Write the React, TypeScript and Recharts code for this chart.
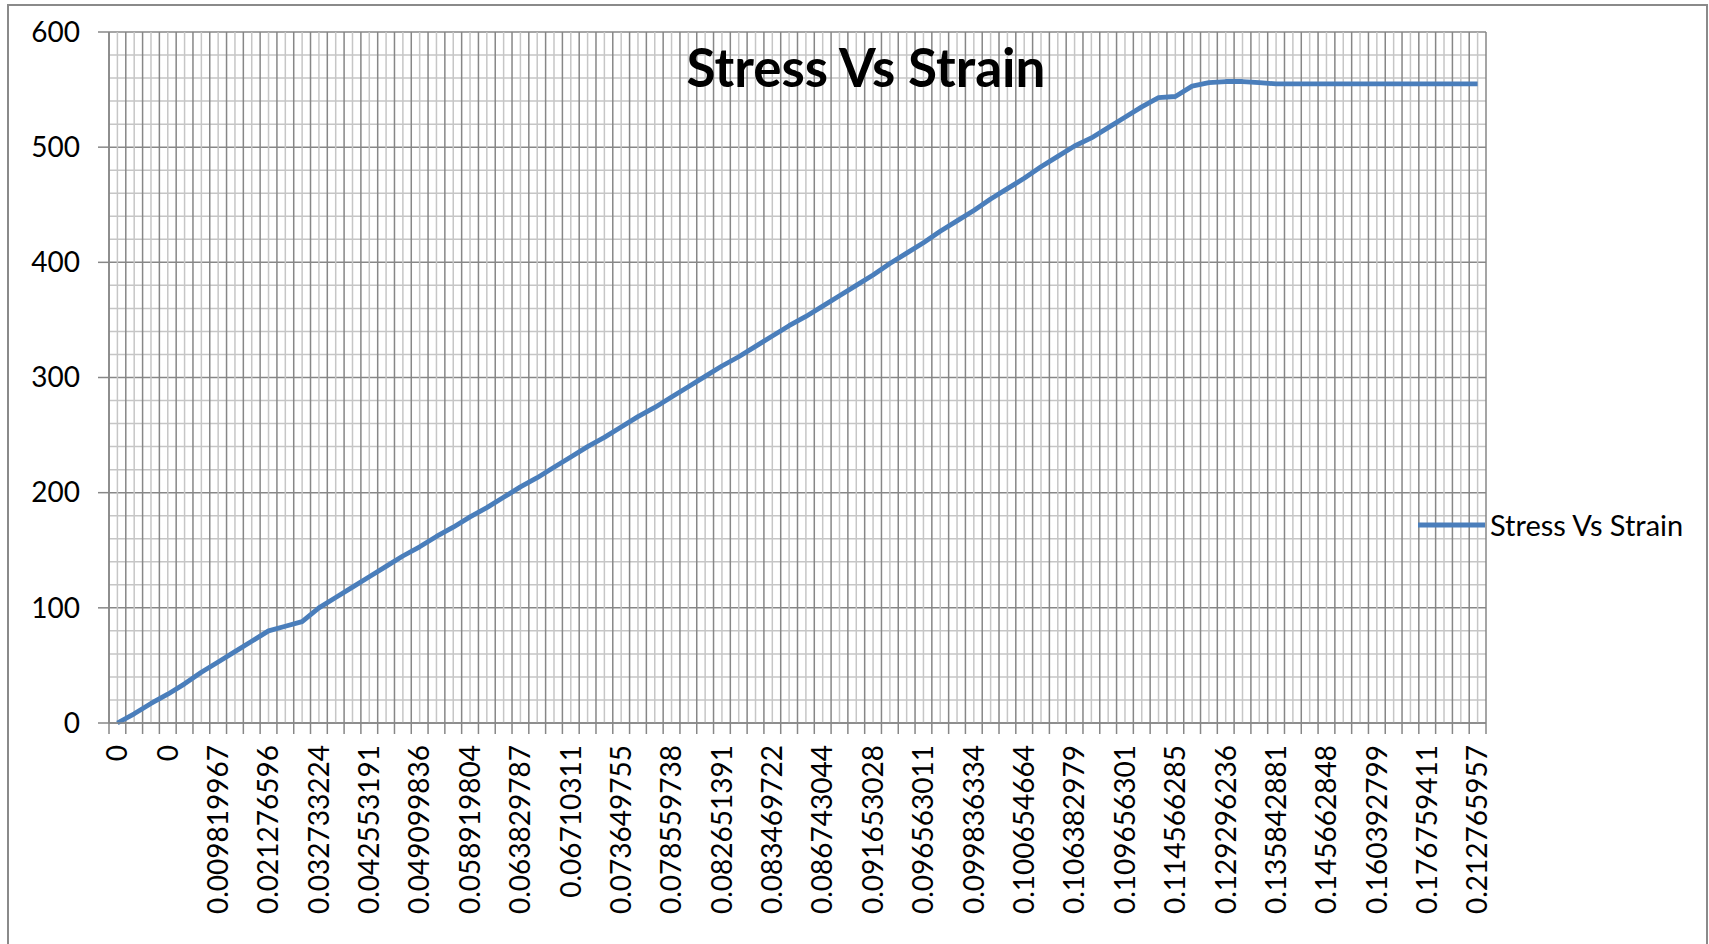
import { CartesianGrid, Line, LineChart, XAxis, YAxis } from 'recharts';

// strain labels shown on the category axis (every 3rd point)
const strainLabels = [
  '0', '0', '0.009819967', '0.021276596', '0.032733224', '0.042553191', '0.049099836',
  '0.058919804', '0.063829787', '0.06710311', '0.073649755', '0.078559738', '0.082651391',
  '0.083469722', '0.086743044', '0.091653028', '0.096563011', '0.099836334', '0.100654664',
  '0.106382979', '0.109656301', '0.114566285', '0.129296236', '0.135842881', '0.145662848',
  '0.160392799', '0.176759411', '0.212765957',
];

// stress, one per category
const stress = [
  0, 8, 17, 25, 34, 44, 53, 62, 71, 80,
  84, 88, 100, 109, 118, 127, 136, 145, 153, 162,
  170, 179, 187, 196, 205, 213, 222, 231, 240, 248,
  257, 266, 274, 283, 292, 301, 310, 318, 327, 336,
  345, 353, 362, 371, 380, 389, 399, 408, 417, 427,
  436, 445, 455, 464, 473, 483, 492, 501, 508, 517,
  526, 535, 543, 544, 553, 556, 557, 557, 556, 555,
  555, 555, 555, 555, 555, 555, 555, 555, 555, 555,
  555, 555,
];

const yTicks = [0, 20, 40, 60, 80, 100, 120, 140, 160, 180, 200, 220, 240, 260, 280, 300,
  320, 340, 360, 380, 400, 420, 440, 460, 480, 500, 520, 540, 560, 580, 600];

const data = stress.map((s, i) => ({ i, stress: s }));
// grid / tick positions: category edges and centres
const xTicks = Array.from({ length: stress.length * 2 + 1 }, (_, k) => k * 0.5 - 0.5);

const DARK = '#878787';
const LIGHT = '#c6c6c6';
const FONT = 'Lato, "Open Sans", sans-serif';

const XTick = (props: any) => {
  const { x, y, payload } = props;
  const v = payload.value;
  const isEdge = Math.abs(v - Math.round(v)) > 0.1;
  if (isEdge) {
    return <line x1={x} x2={x} y1={y} y2={y + 11} stroke={DARK} strokeWidth={1.5} />;
  }
  if (v % 3 !== 0) return <g />;
  const ty = y + 22;
  return (
    <text x={x} y={ty} transform={`rotate(-90, ${x}, ${ty})`} textAnchor="end" dy="0.35em"
      fontSize={28} fontFamily={FONT} fill="#000">
      {strainLabels[v / 3]}
    </text>
  );
};

const YTick = (props: any) => {
  const { x, y, payload } = props;
  if (payload.value % 100 !== 0) return <g />;
  return (
    <g>
      <line x1={x - 11} x2={x} y1={y} y2={y} stroke={DARK} strokeWidth={1.5} />
      <text x={x - 29} y={y} dy="0.35em" textAnchor="end" fontSize={28} fontFamily={FONT} fill="#000">
        {payload.value}
      </text>
    </g>
  );
};

const gridV = (p: any) => (
  <line key={p.key} x1={p.x1} x2={p.x2} y1={p.y1} y2={p.y2}
    stroke={p.index % 2 === 0 ? DARK : LIGHT} strokeWidth={1.5} />
);
const gridH = (p: any) => (
  <line key={p.key} x1={p.x1} x2={p.x2} y1={p.y1} y2={p.y2}
    stroke={p.index % 5 === 0 ? DARK : LIGHT} strokeWidth={1.5} />
);

export default function App() {
  return (
    <div style={{ position: 'absolute', left: 0, top: 0, width: 1709, height: 944, overflow: 'hidden', background: '#fff' }}>
      <div style={{ position: 'absolute', left: 7, top: 4, width: 1697, height: 960, border: '2px solid #8a8a8a' }} />
      <div style={{ position: 'absolute', left: 0, top: 0 }}>
        <LineChart width={1709} height={944} data={data}
          margin={{ top: 32, right: 223, bottom: 21, left: 9 }}>
          <CartesianGrid vertical={gridV} horizontal={gridH} />
          <XAxis dataKey="i" type="number" domain={[-0.5, stress.length - 0.5]} ticks={xTicks}
            interval={0} height={200} tickSize={0} tickMargin={0} tick={<XTick />}
            axisLine={{ stroke: DARK, strokeWidth: 1.5 }} />
          <YAxis type="number" domain={[0, 600]} ticks={yTicks} interval={0} width={100}
            tickSize={0} tickMargin={0} tick={<YTick />} axisLine={{ stroke: DARK, strokeWidth: 1.5 }} />
          <Line type="linear" dataKey="stress" stroke="#4a7ebb" strokeWidth={4.8} dot={false}
            strokeLinejoin="round" isAnimationActive={false} />
        </LineChart>
      </div>
      <svg width={1709} height={944} style={{ position: 'absolute', left: 0, top: 0, pointerEvents: 'none' }}>
        <text x={866} y={87} textAnchor="middle" fontSize={53} fontWeight={700} fontFamily={FONT} fill="#000">
          Stress Vs Strain
        </text>
        <line x1={1418} x2={1485} y1={525} y2={525} stroke="#4a7ebb" strokeWidth={4.8} />
        <text x={1490} y={536} fontSize={29} fontFamily={FONT} fill="#000">Stress Vs Strain</text>
      </svg>
    </div>
  );
}
